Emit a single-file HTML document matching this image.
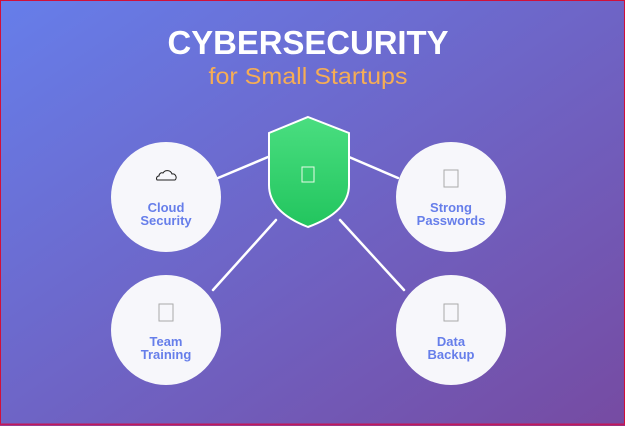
<!DOCTYPE html>
<html><head><style>
html,body{margin:0;padding:0}
body{width:625px;height:426px;overflow:hidden}
</style></head><body>
<svg width="625" height="426" viewBox="0 0 625 426" xmlns="http://www.w3.org/2000/svg" font-family="Liberation Sans, sans-serif">
<defs>
<linearGradient id="bg" x1="0" y1="0" x2="1" y2="1">
<stop offset="0" stop-color="#667eea"/><stop offset="1" stop-color="#764ba2"/>
</linearGradient>
<linearGradient id="sh" x1="0" y1="0" x2="0" y2="1">
<stop offset="0" stop-color="#4ade80"/><stop offset="1" stop-color="#22c55e"/>
</linearGradient>
</defs>
<rect width="625" height="426" fill="url(#bg)"/>
<rect x="0.5" y="0.5" width="624" height="424" fill="none" stroke="#d0103a" stroke-width="1"/>
<line x1="0" y1="424.5" x2="625" y2="424.5" stroke="#c2185b" stroke-width="2"/>
<text x="308" y="54" text-anchor="middle" font-size="33" font-weight="bold" fill="#fff" textLength="281" lengthAdjust="spacingAndGlyphs">CYBERSECURITY</text>
<text x="308" y="84" text-anchor="middle" font-size="23" fill="#f6ad55" textLength="199" lengthAdjust="spacingAndGlyphs">for Small Startups</text>
<g stroke="#fff" stroke-width="2.5" stroke-linecap="round">
<line x1="218" y1="178" x2="268" y2="157"/>
<line x1="349" y1="157" x2="398" y2="178"/>
<line x1="276" y1="220" x2="213" y2="290"/>
<line x1="340" y1="220" x2="404" y2="290"/>
</g>
<path d="M308 117 L349 133 L349 185 Q349 212 308 227 Q269 212 269 185 L269 133 Z" fill="url(#sh)" stroke="#fff" stroke-width="2"/>
<rect x="302" y="167" width="12" height="15" fill="none" stroke="#e8fbe8" stroke-width="1"/>
<g fill="#f7f7fb">
<circle cx="166" cy="197" r="55"/><circle cx="451" cy="197" r="55"/>
<circle cx="166" cy="330" r="55"/><circle cx="451" cy="330" r="55"/>
</g>
<path d="M157 180 h18 a3.5 3.5 0 0 0 -3 -6 a5 5 0 0 0 -9 -1 a3 3 0 0 0 -4 3 a2.5 2.5 0 0 0 -2 4 z" fill="none" stroke="#222" stroke-width="1"/>
<g fill="none" stroke="#aaa" stroke-width="1">
<rect x="444" y="170" width="14" height="17"/>
<rect x="159" y="304" width="14" height="17"/>
<rect x="444" y="304" width="14" height="17"/>
</g>
<g font-size="13" font-weight="bold" fill="#667eea" text-anchor="middle">
<text x="166" y="212">Cloud</text><text x="166" y="225">Security</text>
<text x="451" y="212">Strong</text><text x="451" y="225">Passwords</text>
<text x="166" y="346">Team</text><text x="166" y="359">Training</text>
<text x="451" y="346">Data</text><text x="451" y="359">Backup</text>
</g>
</svg>
</body></html>
